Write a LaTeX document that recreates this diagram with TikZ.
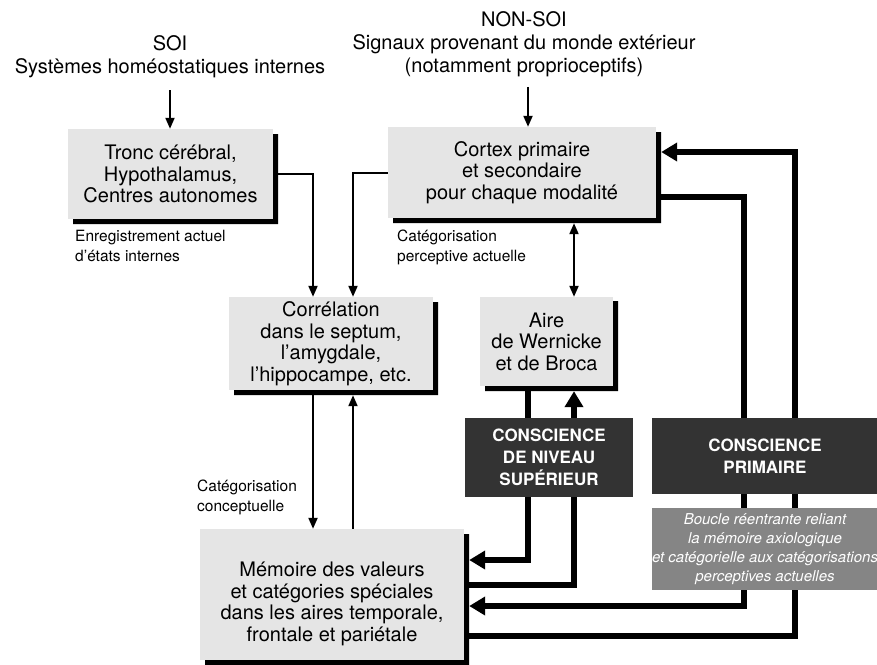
\documentclass[tikz,border=0pt]{standalone}
\usepackage{fontspec}
\setmainfont{TeX Gyre Heros}
\usetikzlibrary{arrows.meta}

\definecolor{boxfill}{gray}{0.90}
\definecolor{consfill}{gray}{0.20}
\definecolor{loopfill}{gray}{0.52}

\tikzset{
  lightbox/.style={fill=boxfill, align=center, inner sep=0pt,
    font=\fontsize{20}{21.5}\selectfont},
  boxtext/.style={align=center, inner sep=0pt, font=\fontsize{20}{21.5}\selectfont},
  consbox/.style={fill=consfill, text=white, align=center, inner sep=0pt,
    font=\fontsize{17}{22}\selectfont\bfseries},
  loopbox/.style={fill=loopfill, text=white, align=center, inner sep=0pt,
    font=\fontsize{15}{19}\selectfont\itshape},
  source/.style={align=center, inner sep=0pt, font=\fontsize{20}{23}\selectfont},
  note/.style={align=left, inner sep=0pt, anchor=north west,
    font=\fontsize{15.5}{20}\selectfont},
  shadowfill/.style={fill=black},
  thinlink/.style={line width=2pt, -{Triangle[length=11pt,width=9pt]}},
  thinboth/.style={line width=2pt, {Triangle[length=11pt,width=9pt]}-{Triangle[length=11pt,width=9pt]}},
  thicklink/.style={line width=5.5pt, -{Triangle[length=16pt,width=18pt]}},
  thickline/.style={line width=5.5pt}
}

\begin{document}
\begin{tikzpicture}[x=1pt, y=-1pt]
\useasboundingbox (0,0) rectangle (877,664);

% sources
\node[source] (soi) at (170,57) {SOI\\Systèmes homéostatiques internes};
\node[source] (nonsoi) at (524,44) {NON-SOI\\Signaux provenant du monde extérieur\\(notamment proprioceptifs)};

% light boxes
\node[lightbox, minimum width=205pt, minimum height=90pt] (tronc) at (170.5,174)
  {Tronc cérébral,\\Hypothalamus,\\Centres autonomes};
\node[lightbox, minimum width=268pt, minimum height=91pt] (cortex) at (522,172.5)
  {Cortex primaire\\et secondaire\\pour chaque modalité};
\node[lightbox, minimum width=204pt, minimum height=93pt] (correl) at (331,343.5)
  {Corrélation\\dans le septum,\\l’amygdale,\\l’hippocampe, etc.};
\node[lightbox, minimum width=133pt, minimum height=89pt] (aire) at (546.5,341.5)
  {Aire\\de Wernicke\\et de Broca};
\node[lightbox, minimum width=264pt, minimum height=131pt] (memoire) at (332,594.5) {};
\node[boxtext] (memtext) at (332,604)
  {Mémoire des valeurs\\et catégories spéciales\\dans les aires temporale,\\frontale et pariétale};

% shadows (right and bottom strips)
\fill[shadowfill] (273,134) rectangle (278,224) (73,219) rectangle (278,224);
\fill[shadowfill] (656,132) rectangle (661,223) (393,218) rectangle (661,223);
\fill[shadowfill] (433,302) rectangle (438,395) (234,390) rectangle (438,395);
\fill[shadowfill] (613,301) rectangle (618,391) (485,386) rectangle (618,391);
\fill[shadowfill] (464,534) rectangle (469,665) (205,660) rectangle (469,665);

% dark boxes
\node[consbox, minimum width=168pt, minimum height=79pt] (consup) at (549,457.5)
  {CONSCIENCE\\DE NIVEAU\\SUPÉRIEUR};
\node[consbox, minimum width=226pt, minimum height=76pt] (conprim) at (765,456)
  {CONSCIENCE\\PRIMAIRE};

% notes
\node[note] (enreg) at (75,230) {Enregistrement actuel\\d’états internes};
\node[note] (catperc) at (397,230) {Catégorisation\\perceptive actuelle};
\node[note] (catconc) at (197,480) {Catégorisation\\conceptuelle};

% lanes
\coordinate (lA) at (313,0);
\coordinate (lB) at (353,0);
\coordinate (lC) at (528,0);
\coordinate (lD) at (574,0);
\coordinate (lE) at (744,0);
\coordinate (lF) at (795,0);
\coordinate (lIn) at (528,0);

% thin connectors
\draw[thinlink, shorten <=12pt] (soi.south) -- (soi.south |- tronc.north);
\draw[thinlink, shorten <=10pt] (nonsoi.south -| lIn) -- (cortex.north -| lIn);
\draw[thinlink] (tronc.east) -| (correl.north -| lA);
\draw[thinlink] (cortex.west) -| (correl.north -| lB);
\draw[thinlink, shorten <=5pt] (correl.south -| lA) -- (memoire.north -| lA);
\draw[thinlink, shorten >=5pt] (memoire.north -| lB) -- (correl.south -| lB);
\draw[thinboth, shorten <=5pt] (cortex.south -| lD) -- (aire.north -| lD);

% thick connectors
\draw[thickline, shorten <=5pt] (aire.south -| lC) -- (consup.north -| lC);
\draw[thicklink, shorten >=5pt] (consup.north -| lD) -- (aire.south -| lD);
\draw[thicklink, shorten >=5pt] (consup.south -| lC) |- (memoire.east |- 0,560);
\draw[thickline] (consup.south -| lD) |- (memoire.east |- 0,585);
\draw[thickline] (conprim.north -| lE) |- (cortex.east |- 0,197);
\draw[thicklink, shorten >=5pt] (conprim.north -| lF) |- (cortex.east |- 0,152);
\draw[thicklink, shorten >=5pt] (conprim.south -| lE) |- (memoire.east |- 0,606);
\draw[thickline] (conprim.south -| lF) |- (memoire.east |- 0,636);

% loop box over the lines
\node[loopbox, minimum width=226pt, minimum height=82pt] (boucle) at (765,549)
  {Boucle réentrante reliant\\la mémoire axiologique\\et catégorielle aux catégorisations\\perceptives actuelles};

\end{tikzpicture}
\end{document}
